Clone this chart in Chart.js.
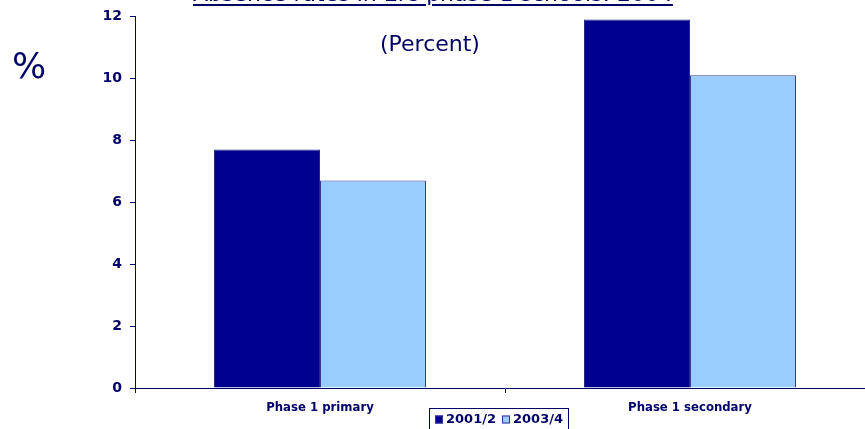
<!DOCTYPE html>
<html>
<head>
<meta charset="utf-8">
<script src="https://cdn.jsdelivr.net/npm/chart.js@4"></script>
<style>
  html, body { margin:0; padding:0; background:#fff; overflow:hidden; width:865px; height:429px; }
  #wrap { position:absolute; left:0; top:0; width:890px; height:429px; }
  .txt { position:absolute; color:#000066; font-family:"DejaVu Sans", Verdana, sans-serif; white-space:nowrap; }
  #title { left:193px; top:-17px; font-size:22px; line-height:22px; text-decoration:underline; text-decoration-thickness:2px; text-underline-offset:3px; }
  #sub { left:380px; top:30px; font-size:22px; line-height:28px; }
  #pct { left:12px; top:46px; font-size:36px; line-height:40px; }
</style>
</head>
<body>
<div id="wrap"><canvas id="c" width="890" height="429"></canvas></div>
<div class="txt" id="title">Absence rates in EiC phase 1 schools: 2004</div>
<div class="txt" id="sub">(Percent)</div>
<div class="txt" id="pct">%</div>
<script>
const categories = ["Phase 1 primary", "Phase 1 secondary"];
const seriesNames = ["2001/2", "2003/4"];
const values2001 = [7.7, 11.9];
const values2003 = [6.7, 10.1];
const yTicks = [0, 2, 4, 6, 8, 10, 12];

const NAVY = "#000066";
const colors = ["#000090", "#99CCFF"];

const legendPlugin = {
  id: "boxLegend",
  afterDraw(chart) {
    const ctx = chart.ctx;
    ctx.save();
    const x0 = 429.5, y0 = 408.5, w = 139, h = 30;
    ctx.fillStyle = "#fff";
    ctx.fillRect(x0, y0, w, h);
    ctx.strokeStyle = NAVY;
    ctx.lineWidth = 1;
    ctx.strokeRect(x0, y0, w, h);
    ctx.font = "bold 13px 'DejaVu Sans', sans-serif";
    ctx.textBaseline = "middle";
    ctx.textAlign = "left";
    const markerX = [435, 502];
    const yMid = 419.5;
    chart.data.datasets.forEach((ds, i) => {
      const x = markerX[i];
      ctx.fillStyle = ds.backgroundColor;
      ctx.fillRect(x, yMid - 4, 8, 8);
      ctx.strokeStyle = "#333399";
      ctx.strokeRect(x + 0.5, yMid - 3.5, 7, 7);
      ctx.fillStyle = NAVY;
      ctx.fillText(ds.label, x + 11, yMid);
    });
    ctx.restore();
  }
};

new Chart(document.getElementById("c"), {
  type: "bar",
  data: {
    labels: categories,
    datasets: [
      { label: seriesNames[0], data: values2001, backgroundColor: colors[0], borderColor: "#2a2a80", borderWidth: 1 },
      { label: seriesNames[1], data: values2003, backgroundColor: colors[1], borderColor: "#3a3a90", borderWidth: 1 }
    ]
  },
  options: {
    responsive: false,
    animation: false,
    layout: { padding: { top: 14, right: 15, left: 0, bottom: 0 } },
    datasets: { bar: { categoryPercentage: 0.573, barPercentage: 1.0 } },
    plugins: { legend: { display: false }, tooltip: { enabled: false } },
    scales: {
      x: {
        grid: { display: true, drawOnChartArea: false, offset: true, color: NAVY, tickLength: 5 },
        border: { color: NAVY, width: 1 },
        ticks: { color: NAVY, padding: 7, font: { family: "'DejaVu Sans Condensed', 'DejaVu Sans', sans-serif", size: 13, weight: "bold" } },
        afterFit(s) { s.height = 41; }
      },
      y: {
        min: 0, max: 12,
        afterBuildTicks(s) { s.ticks = yTicks.map(v => ({ value: v })); },
        grid: { display: true, drawOnChartArea: false, color: NAVY, tickLength: 5 },
        border: { color: NAVY, width: 1 },
        ticks: { color: NAVY, padding: 8, font: { family: "'DejaVu Sans', sans-serif", size: 14, weight: "bold" } },
        afterFit(s) { s.width = 135; }
      }
    }
  },
  plugins: [legendPlugin]
});
</script>
</body>
</html>
